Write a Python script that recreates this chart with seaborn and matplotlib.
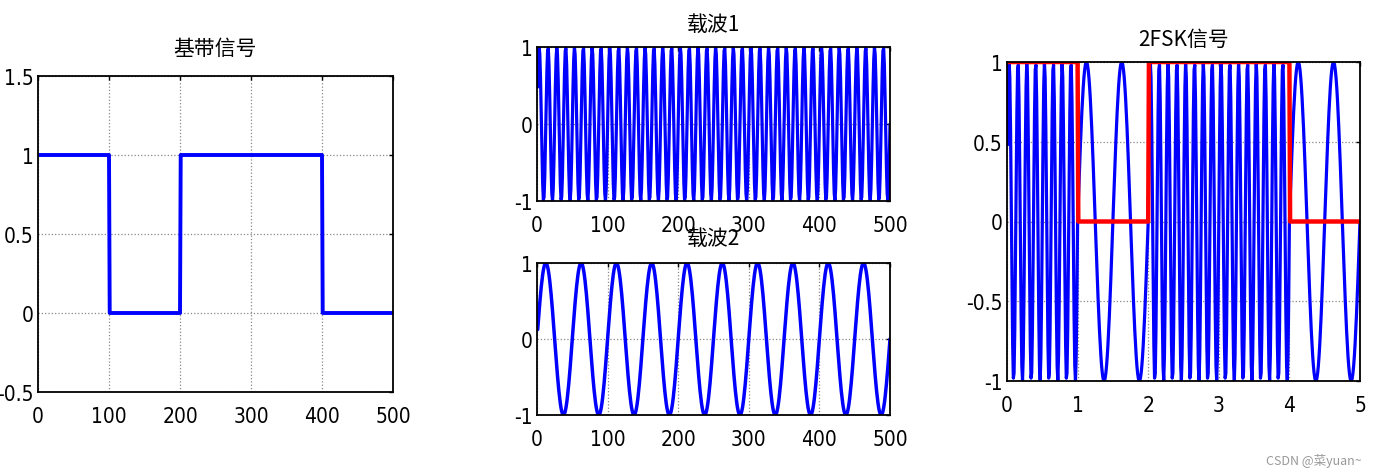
import numpy as np
import pandas as pd
import matplotlib
matplotlib.use('Agg')
import matplotlib.pyplot as plt
import seaborn as sns
from matplotlib import font_manager

# bit sequence and carrier settings (cycles over the 500-sample window)
bits = [1, 0, 1, 1, 0]
samples_per_bit = 100
carrier1_cycles = 40
carrier2_cycles = 10
n_samples = len(bits) * samples_per_bit

base_yticks = [-0.5, 0, 0.5, 1, 1.5]
carrier_yticks = [-1, 0, 1]
fsk_yticks = [-1, -0.5, 0, 0.5, 1]
sample_xticks = [0, 100, 200, 300, 400, 500]
fsk_xticks = [0, 1, 2, 3, 4, 5]
titles = ['基带信号', '载波1', '载波2', '2FSK信号']

sns.set_theme(style='white')
plt.rcParams['font.family'] = ['DejaVu Sans', 'Noto Sans CJK SC']
plt.rcParams['axes.unicode_minus'] = False

# condensed regular face for the tick numbers, if present
cond = [f for f in font_manager.fontManager.ttflist
        if ('Condensed' in f.fname or 'Narrow' in f.fname)
        and not any(k in f.fname for k in ('Bold', 'Oblique', 'Italic'))]
tick_font = font_manager.FontProperties(fname=cond[0].fname) if cond else \
    font_manager.FontProperties(family='Liberation Sans')
tick_font.set_size(15)

t = np.arange(1, n_samples + 1)
baseband = np.repeat(bits, samples_per_bit).astype(float)
c1 = np.sin(2 * np.pi * carrier1_cycles * t / n_samples)
c2 = np.sin(2 * np.pi * carrier2_cycles * t / n_samples)
fsk = np.where(baseband == 1, c1, c2)

df = pd.DataFrame({'t': t, 'tb': t / samples_per_bit, 'base': baseband,
                   'c1': c1, 'c2': c2, 'fsk': fsk})

W, H = 1378, 477
fig = plt.figure(figsize=(W / 100, H / 100), dpi=100)


def box(l, t_, r, b):
    return fig.add_axes([l / W, 1 - b / H, (r - l) / W, (b - t_) / H])


ax1 = box(38, 77, 393, 393)
ax2 = box(537, 48, 890, 202)
ax3 = box(537, 264, 890, 416)
ax4 = box(1007, 63, 1360, 382)

blue = '#0000ff'
sns.lineplot(data=df, x='t', y='base', ax=ax1, color=blue, linewidth=2.8,
             sort=False, errorbar=None)
sns.lineplot(data=df, x='t', y='c1', ax=ax2, color=blue, linewidth=2.3,
             sort=False, errorbar=None)
sns.lineplot(data=df, x='t', y='c2', ax=ax3, color=blue, linewidth=2.5,
             sort=False, errorbar=None)
sns.lineplot(data=df, x='tb', y='fsk', ax=ax4, color=blue, linewidth=2.3,
             sort=False, errorbar=None)
sns.lineplot(data=df, x='tb', y='base', ax=ax4, color='#ff0000', linewidth=3.2,
             sort=False, errorbar=None)

setup = [
    (ax1, (0, 500), (-0.5, 1.5), sample_xticks, base_yticks, titles[0], 16),
    (ax2, (0, 500), (-1, 1), sample_xticks, carrier_yticks, titles[1], 12),
    (ax3, (0, 500), (-1, 1), sample_xticks, carrier_yticks, titles[2], 14),
    (ax4, (0, 5), (-1, 1), fsk_xticks, fsk_yticks, titles[3], 12),
]
for ax, xl, yl, xt, yt, title, pad in setup:
    ax.set_xlim(*xl)
    ax.set_ylim(*yl)
    ax.set_xticks(xt)
    ax.set_yticks(yt)
    ax.set_xticklabels([f'{v:g}' for v in xt], fontproperties=tick_font)
    ax.set_yticklabels([f'{v:g}' for v in yt], fontproperties=tick_font)
    ax.set_xlabel('')
    ax.set_ylabel('')
    ax.grid(True, color='#888888', linestyle=':', linewidth=0.9)
    ax.tick_params(axis='y', pad=3)
    ax.tick_params(axis='x', pad=10)
    ax.tick_params(direction='in', length=3, width=1, top=True, right=True,
                   colors='black')
    for s in ax.spines.values():
        s.set_color('black')
        s.set_linewidth(1.3)
    ax.set_title(title, fontsize=15, pad=pad, color='black',
                 family=['Noto Sans CJK SC', 'DejaVu Sans'])

fig.text(1362 / W, 1 - 461 / H, 'CSDN @菜yuan~', ha='right', va='center',
         fontsize=9, color='#999999', family=['Noto Sans CJK SC', 'DejaVu Sans'])

fig.savefig('out.png', dpi=100)
